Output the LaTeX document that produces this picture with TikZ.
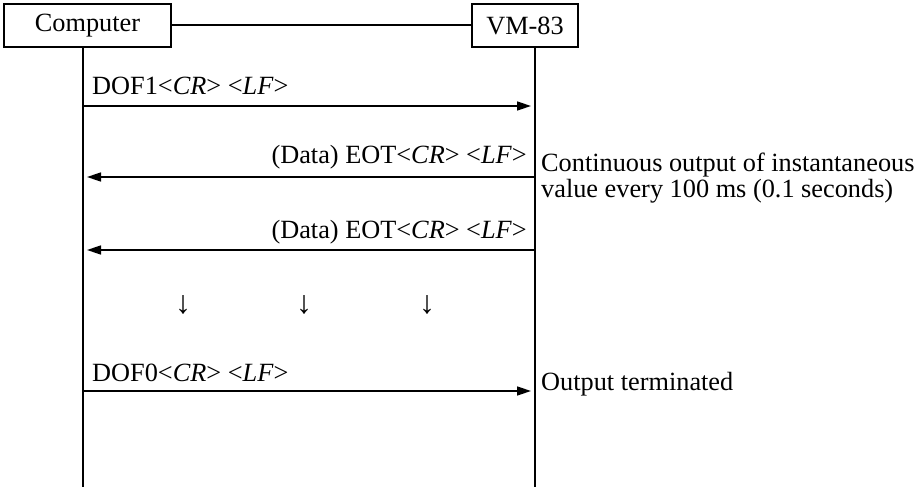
\documentclass[tikz,border=0pt]{standalone}
\usepackage{fontspec}
\setmainfont{Liberation Serif}
\usetikzlibrary{arrows.meta}
\begin{document}
\begin{tikzpicture}[x=1pt,y=-1pt,
  box/.style={draw, line width=2pt, minimum width=#1, minimum height=43pt, inner sep=0pt, font=\fontsize{26.3}{27}\selectfont},
  life/.style={line width=2.6pt},
  msg/.style={line width=1.6pt, -{Triangle[length=14pt,width=9pt]}, shorten >=4pt},
  lbl/.style={inner sep=0pt, font=\fontsize{26.3}{27}\selectfont},
  cont/.style={inner sep=0pt, font=\fontsize{32}{33}\selectfont},
]
\useasboundingbox (0,0) rectangle (919,487);
% participants
\node[box=167pt] (comp) at (87.5,25.5) {Computer};
\node[box=106pt] (vm) at (525,25.5) {VM-83};
\draw[line width=2pt] (comp.east) -- (vm.west);
% lifelines
\coordinate (cb) at (83,487);
\coordinate (vb) at (535,487);
\draw[life] (comp.south -| cb) -- (cb);
\draw[life] (vm.south -| vb) -- (vb);
% message points
\coordinate (c1) at (83,106);  \coordinate (v1) at (535,106);
\coordinate (c2) at (83,177);  \coordinate (v2) at (535,177);
\coordinate (c3) at (83,250);  \coordinate (v3) at (535,250);
\coordinate (c4) at (83,391);  \coordinate (v4) at (535,391);
\draw[msg] (c1) -- (v1);
\draw[msg] (v2) -- (c2);
\draw[msg] (v3) -- (c3);
\draw[msg] (c4) -- (v4);
% labels
\node[lbl, anchor=base west] (l1) at (92,95) {DOF1<\textit{CR}> <\textit{LF}>};
\node[lbl, anchor=base east] (l2) at (527,163) {(Data) EOT<\textit{CR}> <\textit{LF}>};
\node[lbl, anchor=base east] (l3) at (527,238) {(Data) EOT<\textit{CR}> <\textit{LF}>};
\node[lbl, anchor=base west] (l4) at (92,381) {DOF0<\textit{CR}> <\textit{LF}>};
\node[lbl, anchor=base west] (n1) at (541,171) {Continuous output of instantaneous};
\node[lbl, anchor=base west] (n2) at (541,197) {value every 100 ms (0.1 seconds)};
\node[lbl, anchor=base west] (n3) at (541,390) {Output terminated};
% continuation arrows
\node[cont] (d1) at (183,305) {↓};
\node[cont] (d2) at (304,305) {↓};
\node[cont] (d3) at (427,305) {↓};
\end{tikzpicture}
\end{document}
